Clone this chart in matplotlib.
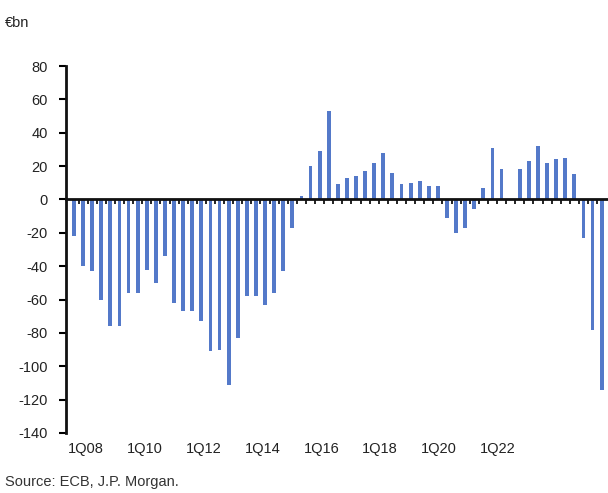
import matplotlib
matplotlib.use('Agg')
import matplotlib.pyplot as plt
import numpy as np

plt.rcParams['font.family'] = ['Liberation Sans Narrow', 'Liberation Sans', 'DejaVu Sans']

# Quarterly values, 1Q08 .. 3Q22 (EUR bn)
values = [-22, -40, -43, -60, -76, -76, -56, -56, -42, -50,
          -34, -62, -67, -67, -73, -91, -90, -111, -83, -58,
          -58, -63, -56, -43, -17, 2, 20, 29, 53, 9,
          13, 14, 17, 22, 28, 16, 9, 10, 11, 8,
          8, -11, -20, -17, -6, 7, 31, 18, 0, 18,
          23, 32, 22, 24, 25, 15, -23, -78, -114]
tick_labels = ['1Q08', '1Q10', '1Q12', '1Q14', '1Q16', '1Q18', '1Q20', '1Q22']
y_ticks = list(range(-140, 81, 20))

bar_color = '#5479c9'

fig = plt.figure(figsize=(6.08, 4.93), dpi=100)
ax = fig.add_axes([66 / 608, 1 - 433 / 493, 1 - 66 / 608, (433 - 66) / 493])

x = np.arange(len(values))
ax.bar(x, values, width=0.42, color=bar_color, zorder=2)

ax.set_xlim(-0.88, 58.7)
ax.set_ylim(-140, 80)

# y axis
ax.set_yticks(y_ticks)
ax.set_yticklabels([str(v) for v in y_ticks], fontsize=10.5, color='#222222')
ax.tick_params(axis='y', direction='out', length=5, width=1.5, pad=8)
ax.spines['left'].set_linewidth(2)
ax.spines['left'].set_color('#111111')
ax.spines['top'].set_visible(False)
ax.spines['right'].set_visible(False)

# x axis drawn at zero, small ticks between categories
ax.spines['bottom'].set_position(('data', 0))
ax.spines['bottom'].set_linewidth(2)
ax.spines['bottom'].set_color('#111111')
ax.spines['bottom'].set_zorder(3)
ax.set_xticks([])
ax.set_xticks(x[:-1] + 0.5, minor=True)
ax.tick_params(axis='x', which='minor', direction='out', length=3.5, width=1.3, color='#111111')

# category labels along the bottom
label_pos = np.linspace(1.3, 46.6, len(tick_labels))
for pos, lab in zip(label_pos, tick_labels):
    ax.text(pos, -0.025, lab, transform=ax.get_xaxis_transform(),
            ha='center', va='top', fontsize=10.5, color='#222222')

fig.text(5 / 608, 1 - 23 / 493, '€bn', ha='left', va='center', fontsize=10.5, color='#222222')
fig.text(5 / 608, 1 - 482 / 493, 'Source: ECB, J.P. Morgan.', ha='left', va='center',
         fontsize=10.5, color='#333333')

fig.savefig('out.png', dpi=100)
